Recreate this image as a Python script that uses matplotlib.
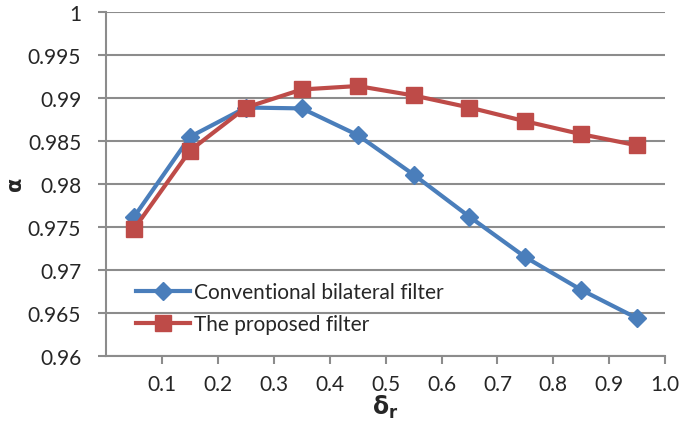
import matplotlib.pyplot as plt

plt.rcParams['font.family'] = ['Lato', 'DejaVu Sans']

# data
delta_r = [0.05, 0.15, 0.25, 0.35, 0.45, 0.55, 0.65, 0.75, 0.85, 0.95]
conventional = [0.9762, 0.9855, 0.9889, 0.9888, 0.9857, 0.9811, 0.9762, 0.9715, 0.9677, 0.9644]
proposed = [0.9748, 0.9839, 0.9889, 0.9910, 0.9914, 0.9903, 0.9889, 0.9873, 0.9858, 0.9845]
x_ticks = [0.1, 0.2, 0.3, 0.4, 0.5, 0.6, 0.7, 0.8, 0.9, 1.0]
x_labels = ['0.1', '0.2', '0.3', '0.4', '0.5', '0.6', '0.7', '0.8', '0.9', '1.0']
y_ticks = [0.96, 0.965, 0.97, 0.975, 0.98, 0.985, 0.99, 0.995, 1.0]
y_labels = ['0.96', '0.965', '0.97', '0.975', '0.98', '0.985', '0.99', '0.995', '1']

grey = '#8c8c8c'
txt = '#262626'

fig = plt.figure(figsize=(6.85, 4.35), dpi=100)
ax = fig.add_axes([0.155, 0.179, 0.816, 0.791])

ax.plot(delta_r, conventional, color='#4a7ebb', lw=3, marker='D', ms=9,
        label='Conventional bilateral filter', zorder=3)
ax.plot(delta_r, proposed, color='#be4b48', lw=3, marker='s', ms=12,
        label='The proposed filter', zorder=4)

ax.set_xlim(0, 1.0)
ax.set_ylim(0.96, 1.0)
ax.set_xticks(x_ticks)
ax.set_xticklabels(x_labels)
ax.set_yticks(y_ticks)
ax.set_yticklabels(y_labels)
ax.yaxis.grid(True, color=grey, lw=1.5)
ax.set_axisbelow(True)

for s in ['top', 'right']:
    ax.spines[s].set_visible(False)
for s in ['left', 'bottom']:
    ax.spines[s].set_color(grey)
    ax.spines[s].set_linewidth(1.5)
ax.tick_params(axis='both', colors=grey, width=1.5, length=6, labelsize=15,
               labelcolor=txt)
ax.tick_params(axis='x', pad=7)
ax.tick_params(axis='y', pad=12)

ax.set_xlabel(r'$\mathbf{\delta_r}$', fontsize=17, color=txt, labelpad=-1)
ax.set_ylabel(r'$\mathbf{\alpha}$', fontsize=15, color=txt, labelpad=1)

ax.legend(loc='lower left', bbox_to_anchor=(0.02, 0.01), frameon=False,
          fontsize=15, handlelength=2.6, handletextpad=0.2, labelspacing=0.55,
          labelcolor=txt)

plt.savefig('out.png', dpi=100)
